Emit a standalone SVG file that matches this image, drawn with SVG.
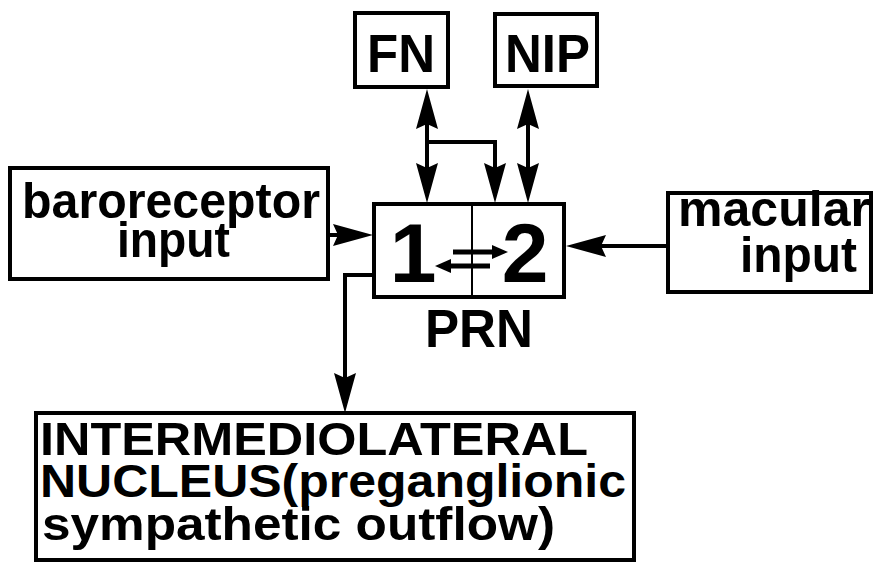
<svg xmlns="http://www.w3.org/2000/svg" width="873" height="562" viewBox="0 0 873 562">
<style>
.box{fill:#fff;stroke:#000;stroke-width:4}
.t{font-family:"Liberation Sans",Arial,sans-serif;font-weight:bold;fill:#000}
.c{fill:none;stroke:#000;stroke-width:4}
.s{fill:none;stroke:#000;stroke-width:5}
</style>
<defs>
<marker id="ah" viewBox="0 0 40 22" refX="20" refY="11" markerWidth="40" markerHeight="22" markerUnits="userSpaceOnUse" orient="auto-start-reverse">
<path d="M0,0 L40,11 L0,22 L5,11 z" fill="#000"/>
</marker>
<marker id="ahs" viewBox="0 0 16 14" refX="8" refY="7" markerWidth="16" markerHeight="14" markerUnits="userSpaceOnUse" orient="auto">
<path d="M0,0 L16,7 L0,14 z" fill="#000"/>
</marker>
</defs>
<rect width="873" height="562" fill="#fff"/>
<g id="connectors">
<path class="c" d="M427,109 V183" marker-start="url(#ah)" marker-end="url(#ah)"/>
<path class="c" d="M427,142 H495 V183" marker-end="url(#ah)"/>
<path class="c" d="M528,109 V183" marker-start="url(#ah)" marker-end="url(#ah)"/>
<path class="c" d="M328,235 H353" marker-end="url(#ah)"/>
<path class="c" d="M668,246 H586" marker-end="url(#ah)"/>
<path class="c" d="M374,275 H345 V393" marker-end="url(#ah)"/>
</g>
<g id="FN">
<rect class="box" x="355" y="13" width="93" height="74"/>
<text class="t" x="367" y="72" font-size="54" textLength="68" lengthAdjust="spacingAndGlyphs">FN</text>
</g>
<g id="NIP">
<rect class="box" x="495" y="14" width="102" height="72"/>
<text class="t" x="505" y="72" font-size="54" textLength="85" lengthAdjust="spacingAndGlyphs">NIP</text>
</g>
<g id="baroreceptor">
<rect class="box" x="10" y="168" width="318" height="111"/>
<text class="t" x="22" y="218" font-size="50" textLength="298" lengthAdjust="spacingAndGlyphs">baroreceptor</text>
<text class="t" x="117" y="257" font-size="50" textLength="113" lengthAdjust="spacingAndGlyphs">input</text>
</g>
<g id="PRN">
<rect class="box" x="374" y="204" width="190" height="93"/>
<line x1="472" y1="204" x2="472" y2="297" stroke="#000" stroke-width="2"/>
<text class="t" x="413" y="282" font-size="84" text-anchor="middle">1</text>
<text class="t" x="525" y="282" font-size="84" text-anchor="middle">2</text>
<path class="s" d="M453,252 H500" marker-end="url(#ahs)"/>
<path class="s" d="M490,266 H443" marker-end="url(#ahs)"/>
<text class="t" x="425" y="347" font-size="54" textLength="108" lengthAdjust="spacingAndGlyphs">PRN</text>
</g>
<g id="macular">
<rect class="box" x="668" y="193" width="203" height="99"/>
<text class="t" x="678" y="226" font-size="50" textLength="192" lengthAdjust="spacingAndGlyphs">macular</text>
<text class="t" x="740" y="272" font-size="50" textLength="117" lengthAdjust="spacingAndGlyphs">input</text>
</g>
<g id="IML">
<rect class="box" x="36" y="413" width="598" height="147"/>
<text class="t" x="40" y="455" font-size="46" textLength="548" lengthAdjust="spacingAndGlyphs">INTERMEDIOLATERAL</text>
<text class="t" x="40" y="497" font-size="46" textLength="586" lengthAdjust="spacingAndGlyphs">NUCLEUS(preganglionic</text>
<text class="t" x="42" y="540" font-size="46" textLength="513" lengthAdjust="spacingAndGlyphs">sympathetic outflow)</text>
</g>
</svg>
